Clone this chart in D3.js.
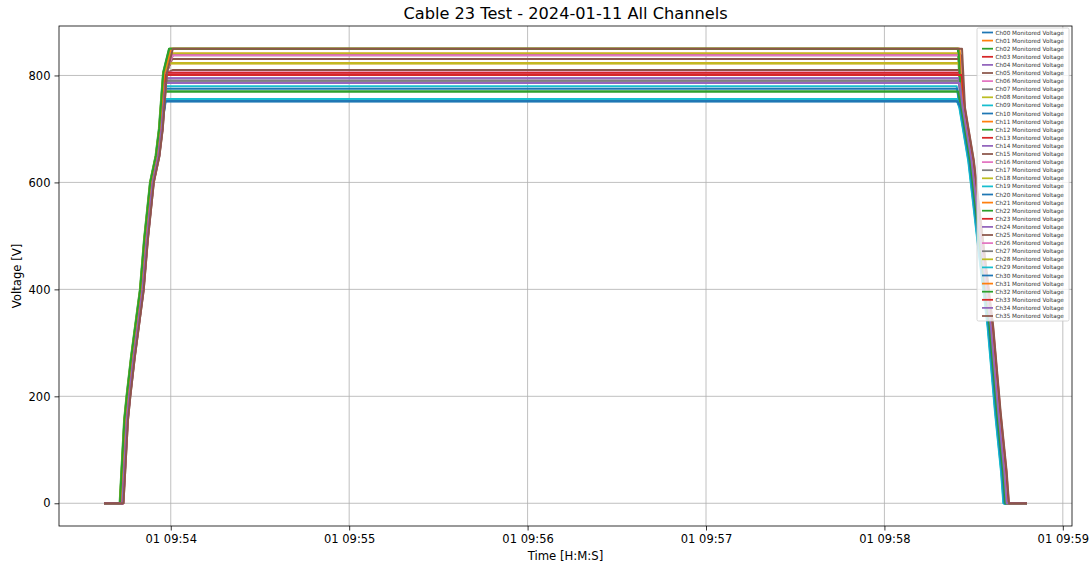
<!DOCTYPE html>
<html>
<head>
<meta charset="utf-8">
<script src="https://cdn.jsdelivr.net/npm/d3@7"></script>
<style>
  html, body { margin: 0; padding: 0; background: #fff; }
  svg { display: block; font-family: "DejaVu Sans", sans-serif; }
</style>
</head>
<body>
<svg id="chart" width="1089" height="569"></svg>
<script>
// ---- data ----------------------------------------------------------------
const title = "Cable 23 Test - 2024-01-11 All Channels";
const xLabel = "Time [H:M:S]";
const yLabel = "Voltage [V]";

// all times are seconds after this reference instant
const baseTime = new Date(2024, 0, 1, 9, 53, 0);

const channels = d3.range(36).map(i => `Ch${String(i).padStart(2, "0")} Monitored Voltage`);

// set-point each channel settles at (V)
const plateauLevels = [
  752, 850, 850, 801, 795, 810, 805, 790, 823, 756,
  752, 841, 770, 801, 786, 831, 805, 790, 841, 780,
  775, 823, 770, 805, 795, 838, 838, 786, 823, 756,
  752, 850, 850, 801, 786, 850
];

// per-channel timing offsets (s) on the ramp up and the ramp down
const upShift = [
  0.3, 0.1, -0.6, 0.5, 0.2, 0.6, 0.4, 0.0, -0.3, 0.2,
  0.1, -0.2, -0.4, 0.4, 0.3, 0.5, 0.6, 0.1, -0.5, 0.0,
  0.2, -0.1, -0.3, 0.5, 0.3, 0.7, 0.6, 0.2, -0.4, 0.1,
  0.2, -0.2, -0.5, 0.4, 0.3, 0.7
];
const downShift = [
  -0.6, 0.2, -0.3, 0.4, 0.0, 0.6, 0.3, 0.1, 0.2, -0.8,
  -0.5, 0.3, -0.4, 0.5, 0.1, 0.7, 0.3, 0.2, 0.4, -0.7,
  -0.5, 0.3, -0.2, 0.6, 0.1, 0.8, 0.4, 0.2, 0.3, -0.6,
  -0.4, 0.2, -0.1, 1.0, 0.3, 1.1
];

// logging window
const logStart = 37.9;
const logEnd = 347.6;

// supply read-back while ramping up / down: [seconds, volts]
const rampUpProfile = [
  [43.4, 0], [44.9, 155], [45.7, 200], [47.2, 273], [50.2, 399],
  [51.6, 493], [53.6, 600], [55.5, 650], [56.6, 700], [58.0, 805], [60.0, 852]
];
const rampDownProfile = [
  [325.0, 852], [326.0, 740], [329.0, 640], [332.5, 470],
  [335.5, 330], [338.0, 170], [340.0, 60], [340.8, 0]
];

const yTicks = [0, 200, 400, 600, 800];
const colors = ["#1f77b4", "#ff7f0e", "#2ca02c", "#d62728", "#9467bd",
                "#8c564b", "#e377c2", "#7f7f7f", "#bcbd22", "#17becf"];

// ---- build series ------------------------------------------------------------
const at = s => new Date(baseTime.getTime() + s * 1000);
const series = channels.map((name, i) => {
  const lvl = plateauLevels[i];
  const pts = [[logStart, 0]];
  rampUpProfile.forEach(([s, v]) => pts.push([s + upShift[i], Math.min(v, lvl)]));
  rampDownProfile.forEach(([s, v]) => pts.push([s + downShift[i], Math.min(v, lvl)]));
  pts.push([logEnd, 0]);
  return { name, color: colors[i % 10], values: pts.map(([s, v]) => ({ t: at(s), v })) };
});

// ---- layout ------------------------------------------------------------------
const svg = d3.select("#chart");
const plot = { left: 59, right: 1072, top: 26, bottom: 526 };

const tExtent = [at(logStart), at(logEnd)];
const tPad = (tExtent[1] - tExtent[0]) * 0.05;
const x = d3.scaleTime()
  .domain([new Date(+tExtent[0] - tPad), new Date(+tExtent[1] + tPad)])
  .range([plot.left, plot.right]);

const vMax = d3.max(series, s => d3.max(s.values, d => d.v));
const vPad = vMax * 0.05;
const y = d3.scaleLinear()
  .domain([-vPad, vMax + vPad])
  .range([plot.bottom, plot.top]);

const xTicks = x.ticks(d3.timeMinute.every(1));

// grid
const grid = svg.append("g").attr("stroke", "#b0b0b0").attr("stroke-width", 0.8);
xTicks.forEach(t => grid.append("line")
  .attr("x1", x(t)).attr("x2", x(t)).attr("y1", plot.top).attr("y2", plot.bottom));
yTicks.forEach(v => grid.append("line")
  .attr("x1", plot.left).attr("x2", plot.right).attr("y1", y(v)).attr("y2", y(v)));

// lines
svg.append("clipPath").attr("id", "plotclip").append("rect")
  .attr("x", plot.left).attr("y", plot.top)
  .attr("width", plot.right - plot.left).attr("height", plot.bottom - plot.top);

const line = d3.line().x(d => x(d.t)).y(d => y(d.v));
svg.append("g").attr("clip-path", "url(#plotclip)")
  .selectAll("path").data(series).join("path")
  .attr("d", d => line(d.values))
  .attr("fill", "none")
  .attr("stroke", d => d.color)
  .attr("stroke-width", 2)
  .attr("stroke-linejoin", "round")
  .attr("stroke-linecap", "square");

// axes
const fmt = d3.timeFormat("%d %H:%M");
const xAxis = svg.append("g")
  .attr("transform", `translate(0,${plot.bottom})`)
  .call(d3.axisBottom(x).tickValues(xTicks).tickFormat(fmt).tickSizeOuter(0).tickSize(4.5).tickPadding(4));
const yAxis = svg.append("g")
  .attr("transform", `translate(${plot.left},0)`)
  .call(d3.axisLeft(y).tickValues(yTicks).tickFormat(d3.format("d")).tickSizeOuter(0).tickSize(4.5).tickPadding(4));
[xAxis, yAxis].forEach(a => {
  a.select(".domain").remove();
  a.selectAll("line").attr("stroke", "#000").attr("stroke-width", 0.8);
  a.selectAll("text").attr("font-size", 11.5).attr("fill", "#000")
    .attr("font-family", "DejaVu Sans, sans-serif");
});

// frame
svg.append("rect")
  .attr("x", plot.left).attr("y", plot.top)
  .attr("width", plot.right - plot.left).attr("height", plot.bottom - plot.top)
  .attr("fill", "none").attr("stroke", "#000").attr("stroke-width", 0.8);

// titles
svg.append("text").attr("x", (plot.left + plot.right) / 2).attr("y", 19)
  .attr("text-anchor", "middle").attr("font-size", 16.2).text(title);
svg.append("text").attr("x", (plot.left + plot.right) / 2).attr("y", 560)
  .attr("text-anchor", "middle").attr("font-size", 11.7).text(xLabel);
svg.append("text").attr("transform", `translate(21,${(plot.top + plot.bottom) / 2}) rotate(-90)`)
  .attr("text-anchor", "middle").attr("font-size", 11.7).text(yLabel);

// legend
const lg = { x: 977, y: 28, w: 92, h: 293, step: 8.1, first: 32.5 };
const legend = svg.append("g");
legend.append("rect")
  .attr("x", lg.x).attr("y", lg.y).attr("width", lg.w).attr("height", lg.h)
  .attr("rx", 1.5).attr("fill", "#fff").attr("fill-opacity", 0.8)
  .attr("stroke", "#cccccc").attr("stroke-width", 0.8);
const items = legend.selectAll("g.item").data(series).join("g")
  .attr("class", "item")
  .attr("transform", (d, i) => `translate(0,${lg.first + i * lg.step})`);
items.append("line")
  .attr("x1", lg.x + 5).attr("x2", lg.x + 16)
  .attr("stroke", d => d.color).attr("stroke-width", 1.75);
items.append("text")
  .attr("x", lg.x + 18.5).attr("dy", "0.35em")
  .attr("font-size", 5.7).attr("fill", "#333").text(d => d.name);
</script>
</body>
</html>
